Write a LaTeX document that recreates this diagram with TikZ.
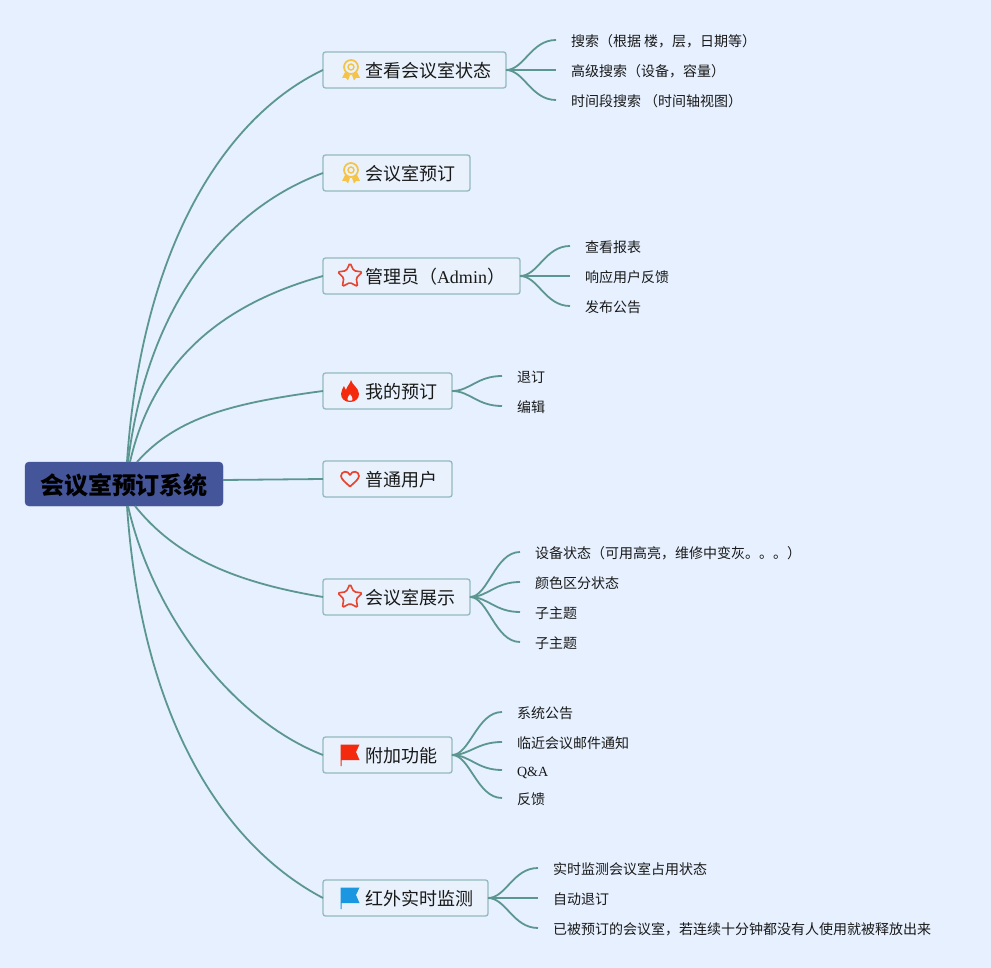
\documentclass[tikz,border=0pt]{standalone}
\usepackage{fontspec}
\setmainfont{Liberation Serif}
\newfontfamily\cjk{Noto Sans CJK SC}
\newcommand{\lat}[1]{{\rmfamily #1}}
\usetikzlibrary{arrows.meta,positioning,shapes.geometric,calc}
\definecolor{PageBlue}{RGB}{230,240,254}
\definecolor{BoxBlue}{RGB}{233,242,252}
\definecolor{BoxEdge}{RGB}{146,186,192}
\definecolor{RootBlue}{RGB}{69,85,154}
\definecolor{BranchTeal}{RGB}{91,150,144}
\definecolor{MedalGold}{RGB}{245,196,70}
\definecolor{IconRed}{RGB}{232,67,47}
\definecolor{FlagRed}{RGB}{244,42,14}
\definecolor{FlagBlue}{RGB}{26,151,224}
\tikzset{
  root/.style={fill=RootBlue,draw=RootBlue,rounded corners=4pt,minimum width=198pt,
    minimum height=44pt,outer sep=0pt,text height=23.5pt,text depth=3pt,inner ysep=0pt,
    font=\cjk\bfseries\fontsize{24}{28}\selectfont},
  topic/.style={draw=BoxEdge,fill=BoxBlue,line width=1.3pt,rounded corners=2.5pt,
    minimum height=36pt,inner xsep=15pt,inner ysep=0pt,outer sep=0pt,
    text height=18pt,text depth=2.3pt,
    font=\cjk\fontsize{18}{22}\selectfont,text=black!90},
  leaf/.style={inner xsep=15pt,inner ysep=2pt,outer sep=0pt,
    text height=14.3pt,text depth=1.7pt,
    font=\cjk\fontsize{14}{17}\selectfont,text=black!90},
  trunk/.style={BranchTeal,line width=1.8pt},
  twig/.style={BranchTeal,line width=1.8pt},
  staricon/.style={star,star points=5,star point ratio=2.0,draw=IconRed,line width=1.6pt,
    rounded corners=1.5pt,minimum size=26pt,inner sep=0pt},
  medal/.pic={
    \draw[MedalGold,line width=1.7pt] (0,-3) circle (7);
    \draw[MedalGold,line width=1.4pt] (0,-3) circle (3);
    \fill[MedalGold] (-6,2) -- (-9,8) -- (-5,8) -- (-3,10.5) -- (-1,5) -- cycle;
    \fill[MedalGold] (6,2) -- (9,8) -- (5,8) -- (3,10.5) -- (1,5) -- cycle;
  },
  flame/.pic={
    \fill[FlagRed,even odd rule] (1,-11) .. controls (2,-6) and (9,-3) .. (9,3)
      .. controls (9,8) and (5,11) .. (0,11) .. controls (-5,11) and (-9,8) .. (-9,3)
      .. controls (-9,0) and (-7,-3) .. (-6,-5) .. controls (-5,-3) and (-5,-2) .. (-4,-1)
      .. controls (-3,-5) and (0,-7) .. (1,-11) -- cycle
      (0,3) .. controls (-2,5) and (-3,7) .. (-2.5,9) .. controls (-2,10) and (2,10) .. (2.5,9)
      .. controls (3,7) and (2,5) .. (0,3) -- cycle;
  },
  heart/.pic={
    \draw[IconRed,line width=1.7pt,line join=round] (0,7.5) .. controls (-4,4) and (-9,0) .. (-9,-3)
      .. controls (-9,-8) and (-2,-9) .. (0,-4) .. controls (2,-9) and (9,-8) .. (9,-3)
      .. controls (9,0) and (4,4) .. (0,7.5) -- cycle;
  },
  flagicon/.pic={
    \fill[#1] (-9.5,-10.5) -- (9.5,-10.5) -- (6,-3) -- (9.5,5) -- (-8.5,5) -- (-8.5,11) -- (-9.5,11) -- cycle;
  }
}
\begin{document}
\begin{tikzpicture}[x=1pt,y=-1pt]
  \fill[PageBlue] (0,0) rectangle (991,968);
  \useasboundingbox (0,0) rectangle (991,968);
  \node[root] (root) at (124,484) {会议室预订系统};
  % main topics
  \node[topic,anchor=west] (status) at (323,70) {\hspace*{27pt}查看会议室状态};
  \node[topic,below=67pt of status.south west,anchor=north west] (booking) {\hspace*{27pt}会议室预订};
  \node[topic,below=67pt of booking.south west,anchor=north west] (admin) {\hspace*{27pt}管理员（\lat{Admin}）};
  \node[topic,below=79pt of admin.south west,anchor=north west] (mine) {\hspace*{27pt}我的预订};
  \node[topic,below=52pt of mine.south west,anchor=north west] (user) {\hspace*{27pt}普通用户};
  \node[topic,below=82pt of user.south west,anchor=north west] (display) {\hspace*{27pt}会议室展示};
  \node[topic,below=122pt of display.south west,anchor=north west] (extras) {\hspace*{27pt}附加功能};
  \node[topic,below=107pt of extras.south west,anchor=north west] (sensor) {\hspace*{27pt}红外实时监测};
  % icons
  \pic at ($(status.west)+(28,0)$) {medal};
  \pic at ($(booking.west)+(28,0)$) {medal};
  \node[staricon] (adminstar) at ($(admin.west)+(27,0)$) {};
  \pic at ($(mine.west)+(27,0)$) {flame};
  \pic at ($(user.west)+(27,0)$) {heart};
  \node[staricon] (displaystar) at ($(display.west)+(27,0)$) {};
  \pic at ($(extras.west)+(27,0)$) {flagicon=FlagRed};
  \pic at ($(sensor.west)+(27,0)$) {flagicon=FlagBlue};
  % leaves
  \node[leaf,right=50pt of status.east,yshift=30pt] (statusa) {搜索（根据 楼，层，日期等）};
  \node[leaf,right=50pt of status.east] (statusb) {高级搜索（设备，容量）};
  \node[leaf,right=50pt of status.east,yshift=-30pt] (statusc) {时间段搜索 （时间轴视图）};
  \node[leaf,right=50pt of admin.east,yshift=30pt] (admina) {查看报表};
  \node[leaf,right=50pt of admin.east] (adminb) {响应用户反馈};
  \node[leaf,right=50pt of admin.east,yshift=-30pt] (adminc) {发布公告};
  \node[leaf,right=50pt of mine.east,yshift=15pt] (minea) {退订};
  \node[leaf,right=50pt of mine.east,yshift=-15pt] (mineb) {编辑};
  \node[leaf,right=50pt of display.east,yshift=45pt] (displaya) {设备状态（可用高亮，维修中变灰。。。）};
  \node[leaf,right=50pt of display.east,yshift=15pt] (displayb) {颜色区分状态};
  \node[leaf,right=50pt of display.east,yshift=-15pt] (displayc) {子主题};
  \node[leaf,right=50pt of display.east,yshift=-45pt] (displayd) {子主题};
  \node[leaf,right=50pt of extras.east,yshift=43pt] (extrasa) {系统公告};
  \node[leaf,right=50pt of extras.east,yshift=13pt] (extrasb) {临近会议邮件通知};
  \node[leaf,right=50pt of extras.east,yshift=-15pt] (extrasc) {\lat{Q\&A}};
  \node[leaf,right=50pt of extras.east,yshift=-43pt] (extrasd) {反馈};
  \node[leaf,right=50pt of sensor.east,yshift=30pt] (sensora) {实时监测会议室占用状态};
  \node[leaf,right=50pt of sensor.east] (sensorb) {自动退订};
  \node[leaf,right=50pt of sensor.east,yshift=-30pt] (sensorc) {已被预订的会议室，若连续十分钟都没有人使用就被释放出来};
  % trunks from the root
  \draw[trunk] ($(root.north)+(3,0)$) .. controls +(15,-220) and +(-95,45) .. (status.west);
  \draw[trunk] ($(root.north)+(4,0)$) .. controls +(20,-160) and +(-95,35) .. (booking.west);
  \draw[trunk] ($(root.north)+(6,0)$) .. controls +(25,-110) and +(-90,25) .. (admin.west);
  \draw[trunk] ($(root.north)+(13,0)$) .. controls +(40,-45) and +(-90,12) .. (mine.west);
  \draw[trunk] ($(root.east)+(0,-4)$) -- (user.west);
  \draw[trunk] ($(root.south)+(11,0)$) .. controls +(40,50) and +(-90,-15) .. (display.west);
  \draw[trunk] ($(root.south)+(4,0)$) .. controls +(25,110) and +(-90,-35) .. (extras.west);
  \draw[trunk] ($(root.south)+(3,0)$) .. controls +(15,220) and +(-95,-50) .. (sensor.west);
  % twigs to the leaves
  \foreach \parent/\kid in {status/statusa,status/statusb,status/statusc,
      admin/admina,admin/adminb,admin/adminc,mine/minea,mine/mineb,
      display/displaya,display/displayb,display/displayc,display/displayd,
      extras/extrasa,extras/extrasb,extras/extrasc,extras/extrasd,
      sensor/sensora,sensor/sensorb,sensor/sensorc}
    \draw[twig] (\parent.east) .. controls +(18,0) and +(-25,0) .. (\kid.west);
\end{tikzpicture}
\end{document}
